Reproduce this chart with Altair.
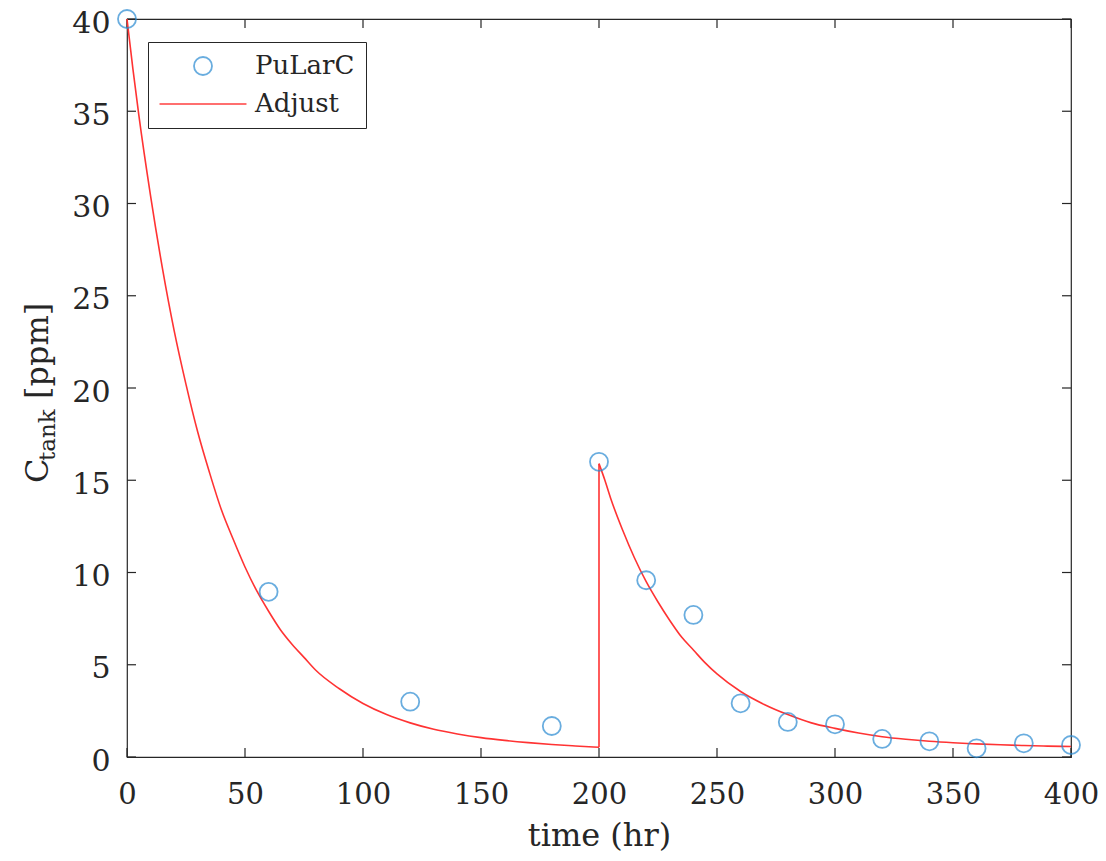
import altair as alt
import pandas as pd

# ---------------- data ----------------
pt_t = [0, 60, 120, 180, 200, 220, 240, 260, 280, 300, 320, 340, 360, 380, 400]
pt_c = [40.0, 8.95, 3.0, 1.68, 16.0, 9.58, 7.70, 2.91, 1.90, 1.77, 0.98, 0.85, 0.47, 0.74, 0.65]

adj_t1 = [0, 2.5, 5, 10, 15, 20, 25, 30, 35, 40, 45, 50, 55, 60, 65, 70, 75, 80, 90,
          100, 110, 120, 130, 140, 150, 160, 170, 180, 190, 200]
adj_c1 = [40.0, 37.3, 34.8, 30.4, 26.5, 23.1, 20.2, 17.6, 15.4, 13.4, 11.8, 10.3, 9.0,
          7.9, 6.9, 6.1, 5.4, 4.7, 3.7, 2.9, 2.3, 1.85, 1.5, 1.25, 1.05, 0.9, 0.78,
          0.68, 0.6, 0.53]
adj_t2 = [200, 202.5, 205, 210, 215, 220, 225, 230, 235, 240, 245, 250, 260, 270, 280,
          290, 300, 310, 320, 330, 340, 350, 360, 370, 380, 390, 400]
adj_c2 = [15.9, 15.0, 14.0, 12.3, 10.8, 9.5, 8.4, 7.4, 6.5, 5.8, 5.1, 4.5, 3.55, 2.85,
          2.3, 1.85, 1.55, 1.3, 1.1, 0.96, 0.85, 0.77, 0.71, 0.66, 0.62, 0.59, 0.57]

x_ticks = [0, 50, 100, 150, 200, 250, 300, 350, 400]
y_ticks = [0, 5, 10, 15, 20, 25, 30, 35, 40]
series_names = ["PuLarC", "Adjust"]

# ---------------- styling ----------------
FONT = "DejaVu Serif"
TXT = "#262626"
BLUE = "#2b8bd2"
RED = "#ff3333"
W, H = 944, 738
TICK = 9

pts = pd.DataFrame({"t": pt_t, "c": pt_c, "series": "PuLarC"})
# three pieces of the fitted curve: decay, jump at t=200, second decay
seg_a = pd.DataFrame({"t": adj_t1, "c": adj_c1, "seg": "a"})
seg_b = pd.DataFrame({"t": [adj_t1[-1], adj_t2[0]], "c": [adj_c1[-1], adj_c2[0]], "seg": "b"})
seg_c = pd.DataFrame({"t": adj_t2, "c": adj_c2, "seg": "c"})
adj = pd.concat([seg_a, seg_b, seg_c], ignore_index=True)
adj["ord"] = range(len(adj))
xt = pd.DataFrame({"t": x_ticks})
yt = pd.DataFrame({"c": y_ticks})

xs = alt.Scale(domain=[0, 400], nice=False, zero=False)
ys = alt.Scale(domain=[0, 40], nice=False, zero=False)

x_axis = alt.Axis(values=x_ticks, ticks=False, tickSize=0, domain=False, grid=False,
                  labelFont=FONT, labelFontSize=29, labelColor=TXT, labelPadding=23,
                  labelFlush=False, title="time (hr)", titleFont=FONT, titleFontSize=32,
                  titleFontWeight="normal", titleColor=TXT, titleBaseline="alphabetic",
                  titleY=88)
y_axis = alt.Axis(values=y_ticks, ticks=False, tickSize=0, domain=False, grid=False,
                  labelFont=FONT, labelFontSize=30, labelColor=TXT, labelPadding=17,
                  labelOffset=4, labelFlush=False, title=None)

X = lambda f: alt.X(f, type="quantitative", scale=xs, axis=x_axis)
Y = lambda f: alt.Y(f, type="quantitative", scale=ys, axis=y_axis)

tick_style = dict(color=TXT, strokeWidth=1.2)
tb = alt.Chart(xt).mark_rule(**tick_style).encode(x=X("t"), y=alt.value(H), y2=alt.value(H - TICK))
tt = alt.Chart(xt).mark_rule(**tick_style).encode(x=X("t"), y=alt.value(0), y2=alt.value(TICK))
tl = alt.Chart(yt).mark_rule(**tick_style).encode(y=Y("c"), x=alt.value(0), x2=alt.value(TICK))
tr = alt.Chart(yt).mark_rule(**tick_style).encode(y=Y("c"), x=alt.value(W), x2=alt.value(W - TICK))

line = alt.Chart(adj).mark_line(strokeWidth=1.6, interpolate="monotone").encode(
    x=X("t"), y=Y("c"), order="ord:Q", detail="seg:N", color=alt.value(RED)
)

leg = dict(title=None, orient="none", legendX=21, legendY=23, padding=11,
           strokeColor=TXT, fillColor="white", labelFont=FONT, labelFontSize=26,
           labelColor=TXT, symbolSize=324, symbolStrokeWidth=1.8, symbolOffset=31,
           labelOffset=39, rowPadding=12, labelLimit=400)

points = alt.Chart(pts).mark_point(filled=False, size=324, strokeWidth=1.8).encode(
    x=X("t"), y=Y("c"),
    color=alt.Color("series:N", scale=alt.Scale(domain=series_names, range=[BLUE, RED]),
                    legend=alt.Legend(**leg)),
    shape=alt.Shape("series:N", scale=alt.Scale(domain=series_names,
                                                range=["circle", "M-4.83,0L4.83,0"]),
                    legend=alt.Legend(**leg)),
)

one = alt.Data(values=[{"k": 1}])
ttl_style = dict(angle=270, align="left", baseline="alphabetic", font=FONT, color=TXT)
t_c = alt.Chart(one).mark_text(text="C", fontSize=32, **ttl_style).encode(
    x=alt.value(-79), y=alt.value(464))
t_sub = alt.Chart(one).mark_text(text="tank", fontSize=23, **ttl_style).encode(
    x=alt.value(-72), y=alt.value(442))
t_unit = alt.Chart(one).mark_text(text="[ppm]", fontSize=32, **ttl_style).encode(
    x=alt.value(-79), y=alt.value(380))

chart = alt.layer(tb, tt, tl, tr, line, points, t_c, t_sub, t_unit).properties(
    width=W, height=H,
    padding={"left": 119, "top": 11, "right": 27, "bottom": 96},
    autosize=alt.AutoSizeParams(type="none"),
    background="white",
).configure_view(stroke=TXT, strokeWidth=1.2)

chart.save("out.html", embed_options={"renderer": "svg", "actions": False})
